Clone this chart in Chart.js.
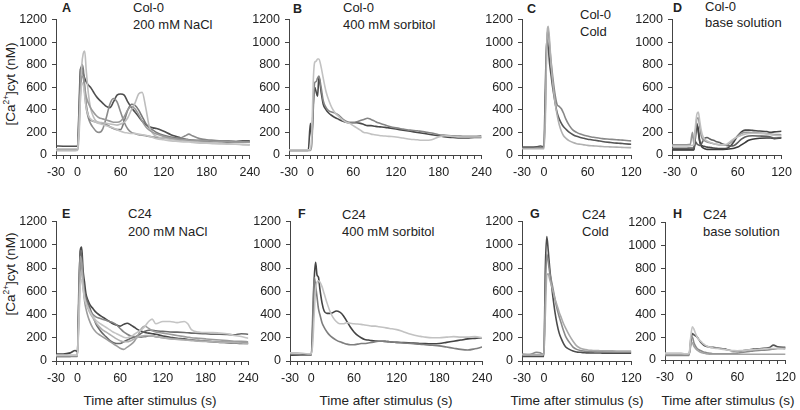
<!DOCTYPE html>
<html lang="en">
  <head>
    <meta charset="UTF-8" />
    <title>Ca2+ traces</title>
    <style>
      body {
        margin: 0;
        width: 800px;
        height: 410px;
        background: #fff;
        color: #222;
        font-family: "Liberation Sans", Arial, sans-serif;
        position: relative;
        overflow: hidden;
      }
      .panel {
        position: absolute;
      }
      .txt {
        position: absolute;
        font-size: 13px;
        line-height: 15px;
        white-space: nowrap;
      }
      .let {
        position: absolute;
        font-size: 12.5px;
        font-weight: bold;
        line-height: 15px;
      }
      .ytitle {
        position: absolute;
        font-size: 13.5px;
        white-space: nowrap;
        transform: translate(-50%, -50%) rotate(-90deg);
      }
      .ytitle sup {
        font-size: 0.62em;
        position: relative;
        top: -0.1em;
      }
      .xtitle {
        position: absolute;
        font-size: 13.5px;
        white-space: nowrap;
        transform: translate(-50%, -50%);
      }
    </style>
  </head>
  <body>
    <div class="ytitle" style="left: 10px; top: 84px">[Ca<sup>2+</sup>]cyt (nM)</div>
    <div class="ytitle" style="left: 10px; top: 274px">[Ca<sup>2+</sup>]cyt (nM)</div>

    <!-- panel labels -->
    <div class="let" style="left: 62px; top: 1px">A</div>
    <div class="txt" style="left: 133px; top: 0px">Col-0</div>
    <div class="txt" style="left: 133px; top: 17px">200 mM NaCl</div>

    <div class="let" style="left: 293px; top: 2px">B</div>
    <div class="txt" style="left: 343px; top: 0px">Col-0</div>
    <div class="txt" style="left: 343px; top: 17px">400 mM sorbitol</div>

    <div class="let" style="left: 527px; top: 2px">C</div>
    <div class="txt" style="left: 580px; top: 7px">Col-0</div>
    <div class="txt" style="left: 580px; top: 24px">Cold</div>

    <div class="let" style="left: 673px; top: 1px">D</div>
    <div class="txt" style="left: 705px; top: -1px">Col-0</div>
    <div class="txt" style="left: 705px; top: 15px">base solution</div>

    <div class="let" style="left: 62px; top: 207px">E</div>
    <div class="txt" style="left: 128px; top: 206px">C24</div>
    <div class="txt" style="left: 128px; top: 224px">200 mM NaCl</div>

    <div class="let" style="left: 298px; top: 207px">F</div>
    <div class="txt" style="left: 342px; top: 207px">C24</div>
    <div class="txt" style="left: 342px; top: 224px">400 mM sorbitol</div>

    <div class="let" style="left: 530px; top: 207px">G</div>
    <div class="txt" style="left: 582px; top: 207px">C24</div>
    <div class="txt" style="left: 582px; top: 224px">Cold</div>

    <div class="let" style="left: 673px; top: 207px">H</div>
    <div class="txt" style="left: 703px; top: 207px">C24</div>
    <div class="txt" style="left: 703px; top: 224px">base solution</div>

    <div class="xtitle" style="left: 150px; top: 400px">Time after stimulus (s)</div>
    <div class="xtitle" style="left: 386px; top: 400px">Time after stimulus (s)</div>
    <div class="xtitle" style="left: 577px; top: 400px">Time after stimulus (s)</div>
    <div class="xtitle" style="left: 728px; top: 400px">Time after stimulus (s)</div>

    <div class="panel" id="pA"><canvas id="cA"></canvas></div>
    <div class="panel" id="pB"><canvas id="cB"></canvas></div>
    <div class="panel" id="pC"><canvas id="cC"></canvas></div>
    <div class="panel" id="pD"><canvas id="cD"></canvas></div>
    <div class="panel" id="pE"><canvas id="cE"></canvas></div>
    <div class="panel" id="pF"><canvas id="cF"></canvas></div>
    <div class="panel" id="pG"><canvas id="cG"></canvas></div>
    <div class="panel" id="pH"><canvas id="cH"></canvas></div>

    <script src="https://cdn.jsdelivr.net/npm/chart.js"></script>
    <script>
      // time points (s)
      var tLong = [-30, -20, -10, -3, 0, 2, 4, 6, 8, 10, 12, 15, 18, 22, 26, 30,
        35, 40, 45, 50, 55, 60, 65, 70, 75, 80, 85, 90, 95, 100, 105, 110,
        120, 130, 140, 150, 155, 160, 170, 180, 190, 200, 210, 220, 230, 240];
      var tShort = [-30, -20, -10, -5, -2, 0, 2, 4, 6, 8, 10, 12,
        15, 18, 21, 24, 27, 30, 35, 40, 45, 50, 55, 60, 65, 70, 75, 80,
        90, 100, 105, 110, 120];

      var xLabels = [-30, 0, 60, 120, 180, 240];

      // A: Col-0, 200 mM NaCl
      var a1 = [80,78,78,78, 80,400,760,780,720,680,650, 620,600,560,520,490,
        460,430,420,470,530,540,530,470,420,380,340,300,270,250,240,235,
        210,180,160,140,135,130,125,125,120,120,115,120,125,125];
      var a2 = [50,50,50,50, 55,350,700,800,760,600,450, 350,310,300,290,285,
        280,270,250,235,225,225,300,400,450,440,400,340,280,240,220,200,
        175,160,150,140,135,130,130,128,125,120,120,118,115,115];
      var a3 = [40,40,40,40, 40,150,500,800,900,920,760, 550,420,340,300,290,
        285,280,275,270,265,275,290,330,400,460,540,555,420,250,190,165,
        150,140,130,125,125,120,115,110,105,100,100,95,95,90];
      var a4 = [40,40,40,40, 45,300,650,760,700,550,420, 330,280,240,210,200,
        230,330,450,500,470,380,290,230,200,190,180,175,170,165,160,155,
        150,145,145,170,185,170,145,135,130,125,125,120,120,120];
      var a5 = [55,55,55,55, 55,250,550,700,690,600,520, 460,420,380,350,330,
        320,310,300,290,290,300,340,400,430,410,360,300,250,220,200,185,
        165,150,140,135,132,130,128,125,122,120,118,115,115,112];
      var a6 = [55,55,55,55, 55,200,500,640,620,520,420, 350,320,300,290,280,
        270,260,250,240,225,210,200,195,190,190,185,180,175,165,155,145,
        135,125,120,115,115,110,105,105,100,100,95,95,90,90];

      // B: Col-0, 400 mM sorbitol
      var b1 = [40,40,40,40, 280,150,450,600,560,520,690, 560,450,400,370,350,
        330,315,300,290,285,285,285,280,270,260,260,255,250,248,245,240,
        230,220,210,200,195,190,180,170,160,155,150,150,155,155];
      var b2 = [40,40,40,40, 40,100,400,640,650,680,700, 600,480,420,390,380,
        370,350,320,300,290,290,295,305,315,325,315,300,285,275,265,255,
        240,230,220,215,210,205,195,180,175,170,168,165,165,170];
      var b3 = [45,45,45,45, 45,200,650,820,830,850,850, 780,680,560,480,420,
        370,340,310,290,280,260,240,220,200,195,185,180,175,170,168,165,
        160,150,140,135,130,130,135,160,170,165,160,160,160,160];

      // C: Col-0, cold
      var c1 = [70,70,72,80,75, 75,600,1030,950,800,700,600, 480,380,320,280,250,230,
        200,180,165,155,148,140,135,130,125,120, 112,105,103,100,95];
      var c2 = [60,60,62,65,65, 65,400,1000,1100,950,820,700, 550,450,430,410,370,320,
        260,220,200,185,175,168,160,155,150,145, 140,135,133,130,125];
      var c3 = [55,55,55,55,55, 55,300,1000,1140,1000,800,650, 480,360,270,210,170,150,
        125,110,100,95,90,85,82,80,78,75, 72,70,68,66,65];

      // D: Col-0, base solution
      var d1 = [80,80,80,82,85, 90,250,360,380,300,220,170, 140,125,115,108,100,95,
        90,90,95,120,145,160,175,185,190,192, 190,185,180,175,170];
      var d2 = [50,50,50,50,50, 50,200,280,200,120,90,80, 75,70,68,65,62,60,
        58,58,60,80,120,170,205,220,220,218, 212,208,200,205,210];
      var d3 = [60,60,60,62,62, 62,120,100,90,85,95,120, 150,155,145,135,130,120,
        110,95,85,80,85,110,140,160,168,170, 168,165,160,150,155];
      var d4 = [90,90,90,95,200, 100,200,320,330,250,170,140, 125,115,110,105,100,95,
        90,88,90,110,140,170,190,200,200,198, 195,190,185,182,180];
      var d5 = [45,45,45,45,45, 45,150,260,230,120,80,65, 55,50,50,50,50,50,
        50,50,52,55,60,70,90,110,130,140, 148,150,150,145,150];

      // E: C24, 200 mM NaCl
      var e1 = [60,60,70,90, 80,500,950,980,780,680,580, 520,480,450,420,400,
        380,360,340,320,310,300,315,325,310,290,270,255,245,240,235,230,
        215,205,195,190,185,180,175,170,165,160,158,155,150,150];
      var e2 = [40,40,40,45, 45,600,950,900,700,600,550, 500,450,380,320,280,
        240,210,180,160,150,150,165,180,195,205,220,240,255,265,265,260,
        255,250,248,245,243,240,238,235,230,230,228,225,235,230];
      var e3 = [50,50,50,50, 50,300,650,700,620,540,500, 460,420,380,350,330,
        310,290,270,250,235,220,205,200,210,230,250,270,300,340,360,320,
        340,340,330,340,320,270,250,245,245,240,235,220,210,195];
      var e4 = [45,45,45,45, 45,450,900,850,650,520,450, 380,330,280,250,230,
        210,190,170,150,130,110,100,120,140,170,220,280,300,280,260,250,
        240,230,220,210,205,200,195,190,185,180,175,170,170,165];
      var e5 = [40,40,40,40, 40,400,800,850,700,580,520, 470,430,400,380,370,
        360,350,340,330,310,280,250,230,215,210,205,205,210,215,215,210,
        200,195,190,185,183,180,175,170,168,165,163,160,158,155];
      var e6 = [50,50,50,50, 50,350,700,780,650,550,500, 450,410,370,330,300,
        270,250,230,210,190,175,165,165,175,190,205,215,220,220,215,210,
        200,190,185,180,178,175,170,168,165,162,160,158,155,150];

      // F: C24, 400 mM sorbitol
      var f1 = [50,50,55,55, 55,300,700,850,740,720,620, 500,430,410,410,415,
        430,420,390,340,290,250,220,200,185,180,175,172,170,170,168,165,
        160,158,155,152,150,150,148,150,160,170,180,190,195,200];
      var f2 = [70,70,65,60, 60,150,400,620,680,690,680, 640,580,500,430,380,
        340,320,320,330,325,320,318,315,310,305,300,300,295,290,285,280,
        270,250,230,215,210,205,200,200,205,210,205,205,210,200];
      var f3 = [60,55,50,50, 50,400,720,650,550,450,400, 330,290,250,220,200,
        180,165,155,145,140,140,145,150,150,155,160,165,170,170,168,165,
        160,155,150,145,143,140,135,130,120,110,100,95,105,120];

      // G: C24, cold
      var g1 = [40,40,40,40,40, 40,800,1070,950,800,680,570, 430,320,240,190,150,120,
        100,85,78,75,72,70,70,69,69,68, 68,68,68,68,68];
      var g2 = [60,55,75,70,60, 60,600,920,850,760,700,640, 540,450,380,320,260,210,
        160,120,100,90,85,82,80,80,80,79, 79,78,78,78,78];
      var g3 = [55,55,55,55,55, 55,400,740,750,700,660,610, 540,480,420,370,320,280,
        220,170,130,110,100,95,92,90,89,88, 87,86,85,85,85];

      // H: C24, base solution
      var h1 = [60,60,60,55,55, 60,200,290,270,230,200,180, 160,140,125,115,110,105,
        100,95,90,85,82,80,82,85,88,90, 95,100,100,100,95];
      var h2 = [45,45,45,48,50, 50,150,230,220,210,200,180, 150,130,120,115,110,110,
        105,100,95,85,80,80,80,85,90,95, 100,110,130,115,110];
      var h3 = [40,40,40,40,40, 40,180,200,150,120,100,90, 80,70,65,60,58,55,
        55,55,55,55,58,60,65,70,75,80, 85,90,95,100,105];
      var h4 = [50,50,50,50,50, 50,120,150,120,100,85,75, 65,60,55,52,50,50,
        50,50,50,50,50,50,50,50,50,50, 50,50,50,50,50];

      var YW = 42, PT = 10, PR = 16, XH = 28;
      var FONT = { family: "'Liberation Sans', Arial, sans-serif", size: 12.5 };

      var panels = [
        { id: "A", t: tLong, xmax: 240, box: [55.7, 250, 17, 155],
          series: [a6, a5, a3, a2, a4, a1],
          colors: ["#c4c4c4", "#9a9a9a", "#bdbdbd", "#7a7a7a", "#8c8c8c", "#4e4e4e"] },
        { id: "B", t: tLong, xmax: 240, box: [289, 482, 17, 155],
          series: [b3, b2, b1],
          colors: ["#c2c2c2", "#858585", "#484848"] },
        { id: "C", t: tShort, xmax: 120, box: [521.7, 631.5, 17, 155],
          series: [c3, c2, c1],
          colors: ["#b0b0b0", "#888888", "#555555"] },
        { id: "D", t: tShort, xmax: 120, box: [672, 782, 17, 155],
          series: [d1, d4, d3, d2, d5],
          colors: ["#c0c0c0", "#959595", "#5e5e5e", "#474747", "#3a3a3a"] },
        { id: "E", t: tLong, xmax: 240, box: [55.5, 248.3, 219, 361],
          series: [e3, e6, e4, e5, e2, e1],
          colors: ["#c4c4c4", "#b0b0b0", "#9c9c9c", "#858585", "#6a6a6a", "#474747"] },
        { id: "F", t: tLong, xmax: 240, box: [289.5, 482, 219, 361],
          series: [f2, f3, f1],
          colors: ["#c2c2c2", "#7e7e7e", "#444444"] },
        { id: "G", t: tShort, xmax: 120, box: [521.7, 631.5, 219, 361],
          series: [g3, g2, g1],
          colors: ["#aaaaaa", "#8a8a8a", "#4c4c4c"] },
        { id: "H", t: tShort, xmax: 120, box: [665, 786, 220, 360],
          series: [h1, h4, h3, h2],
          colors: ["#c4c4c4", "#a4a4a4", "#8a8a8a", "#555555"] },
      ];

      panels.forEach(function (p) {
        var l = p.box[0], r = p.box[1], t = p.box[2], b = p.box[3];
        var div = document.getElementById("p" + p.id);
        div.style.left = l - YW + "px";
        div.style.top = t - PT + "px";
        div.style.width = r - l + YW + PR + "px";
        div.style.height = b - t + PT + XH + "px";

        var datasets = p.series.map(function (s, k) {
          return {
            data: p.t.map(function (x, i) { return { x: x, y: s[i] }; }),
            borderColor: p.colors[k],
            borderWidth: 1.6,
            pointRadius: 0,
            fill: false,
            cubicInterpolationMode: "monotone",
          };
        });

        new Chart(document.getElementById("c" + p.id), {
          type: "line",
          data: { datasets: datasets },
          options: {
            responsive: true,
            maintainAspectRatio: false,
            animation: false,
            layout: { padding: { left: 0, right: PR, top: PT, bottom: 0 } },
            plugins: { legend: { display: false }, tooltip: { enabled: false } },
            scales: {
              x: {
                type: "linear",
                min: -30,
                max: p.xmax,
                afterFit: function (s) { s.height = XH; },
                ticks: {
                  stepSize: 10,
                  autoSkip: false,
                  maxRotation: 0,
                  minRotation: 0,
                  padding: 6,
                  color: "#222",
                  font: FONT,
                  callback: function (v) {
                    var n = Math.round(v);
                    return xLabels.indexOf(n) >= 0 ? String(n) : "";
                  },
                },
                grid: { drawOnChartArea: false, drawTicks: true, tickLength: 4, color: "#444" },
                border: { color: "#444", width: 1 },
              },
              y: {
                min: 0,
                max: 1200,
                afterFit: function (s) { s.width = YW; },
                ticks: {
                  stepSize: 200,
                  padding: 5,
                  color: "#222",
                  font: FONT,
                  callback: function (v) { return String(Math.round(v)); },
                },
                grid: { drawOnChartArea: false, drawTicks: true, tickLength: 4, color: "#444" },
                border: { color: "#444", width: 1 },
              },
            },
          },
        });
      });
    </script>
  </body>
</html>
